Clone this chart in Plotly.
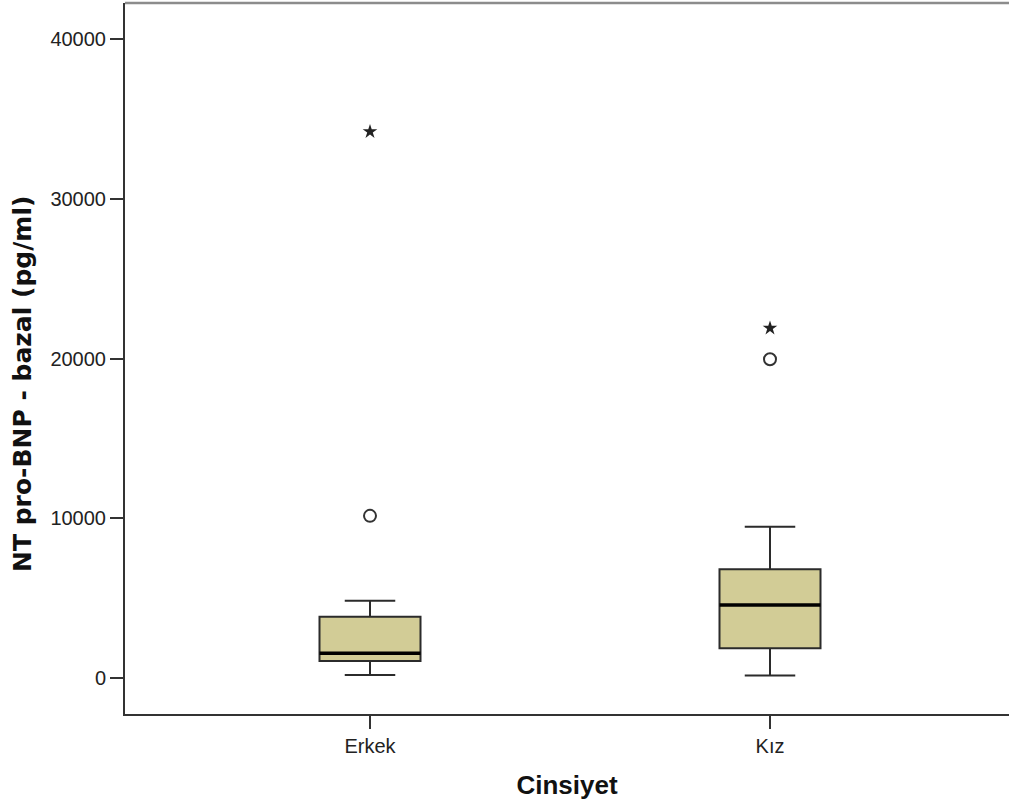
import plotly.graph_objects as go

categories = ["Erkek", "Kız"]
positions = [0, 1]
lower_whisker = [190, 150]
q1 = [1060, 1860]
median = [1550, 4570]
q3 = [3840, 6800]
upper_whisker = [4840, 9470]
circle_outliers = [10150, 19950]
star_outliers = [34200, 21900]
y_ticks = [0, 10000, 20000, 30000, 40000]

BOX_W = 0.2525
FONT = "Liberation Sans, Arial, sans-serif"
L, R, T, B, W, H = 125, 0, 3, 91, 1009, 805
PW, PH = W - L - R, H - T - B

fig = go.Figure()
fig.add_trace(go.Box(
    x=positions, q1=q1, median=median, q3=q3,
    lowerfence=lower_whisker, upperfence=upper_whisker,
    width=BOX_W, whiskerwidth=0.5, boxpoints=False,
    fillcolor="rgb(210,204,150)",
    line=dict(color="#2b2b2b", width=2),
    showlegend=False, hoverinfo="skip",
))
for p, m in zip(positions, median):
    fig.add_trace(go.Scatter(
        x=[p - BOX_W / 2, p + BOX_W / 2], y=[m, m], mode="lines",
        line=dict(color="black", width=3.5), showlegend=False, hoverinfo="skip",
    ))
fig.add_trace(go.Scatter(
    x=positions, y=circle_outliers, mode="markers",
    marker=dict(symbol="circle-open", size=12, color="#333", line=dict(width=2, color="#333")),
    showlegend=False, hoverinfo="skip",
))
fig.add_trace(go.Scatter(
    x=positions, y=star_outliers, mode="markers",
    marker=dict(symbol="star", size=11, color="#222", line=dict(width=0)),
    showlegend=False, hoverinfo="skip",
))

fig.add_shape(type="line", xref="paper", yref="paper", x0=0, x1=1, y0=1, y1=1,
              line=dict(color="#8c8c8c", width=2.5))

fig.add_annotation(
    text="<b>NT pro-BNP - bazal (pg/ml)</b>", textangle=-90,
    xref="paper", yref="paper",
    x=(22 - L) / PW, y=(H - B - 384) / PH,
    xanchor="center", yanchor="middle", showarrow=False,
    font=dict(family="DejaVu Sans, sans-serif", size=25, color="#111"),
)

fig.update_layout(
    width=W, height=H,
    margin=dict(l=L, r=R, t=T, b=B),
    paper_bgcolor="white", plot_bgcolor="white",
    font=dict(family=FONT, color="#222"),
    xaxis=dict(
        range=[-0.6125, 1.5975], tickvals=positions, ticktext=categories,
        showgrid=False, zeroline=False, showline=True, linecolor="#333", linewidth=2,
        ticks="outside", ticklen=13, tickwidth=2, tickcolor="#333",
        tickfont=dict(size=20, color="#222"),
        title=dict(text="<b>Cinsiyet</b>", font=dict(size=26, color="#111"), standoff=20),
    ),
    yaxis=dict(
        range=[-2254, 42254], tickvals=y_ticks, ticktext=[str(v) for v in y_ticks],
        showgrid=False, zeroline=False, showline=True, linecolor="#333", linewidth=2,
        ticks="outside", ticklen=13, tickwidth=2, tickcolor="#333",
        tickfont=dict(size=20, color="#222"),
    ),
)

fig.write_html("out.html")
